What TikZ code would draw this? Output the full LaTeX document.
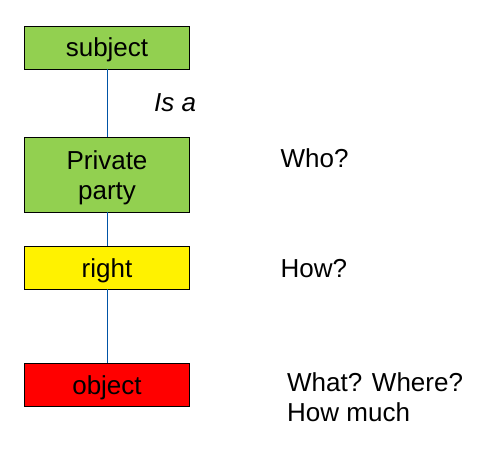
\documentclass[tikz,border=0pt]{standalone}
\usepackage{fontspec}
\setmainfont{Liberation Sans}
\usetikzlibrary{positioning}

\definecolor{boxgreen}{RGB}{146,208,80}
\definecolor{linkblue}{RGB}{0,84,166}

\begin{document}
\begin{tikzpicture}[x=1pt, y=-1pt,
    every node/.style={font=\fontsize{26}{30.5}\selectfont},
    termbox/.style={draw=black, thick, minimum width=165pt, minimum height=43pt, inner sep=0pt, text height=22pt, text depth=3pt},
    question/.style={anchor=base west, inner sep=0pt, align=left}]
  \useasboundingbox (0,0) rectangle (477,452);
  % boxes
  \node[termbox, fill=boxgreen] (subject) at (107,47.5) {subject};
  \node[termbox, fill=boxgreen, minimum height=75pt, align=center, text height=55.5pt, text depth=5.5pt] (party) at (107,174.5) {Private\\party};
  \node[termbox, fill=yellow] (right) at (107,267.5) {right};
  \node[termbox, fill=red] (object) at (107,384.75) {object};
  % links
  \draw[linkblue, line width=0.8pt] (subject) -- (party) -- (right) -- (object);
  \node[question, font=\fontsize{26}{30.5}\selectfont\itshape] (isa) at (154,111) {Is a};
  % questions
  \node[question] (who) at (280.5,167.5) {Who?};
  \node[question] (how) at (280.5,277) {How?};
  \node[question] (what) at (287,421.5) {What? Where?\\How much};
\end{tikzpicture}
\end{document}
